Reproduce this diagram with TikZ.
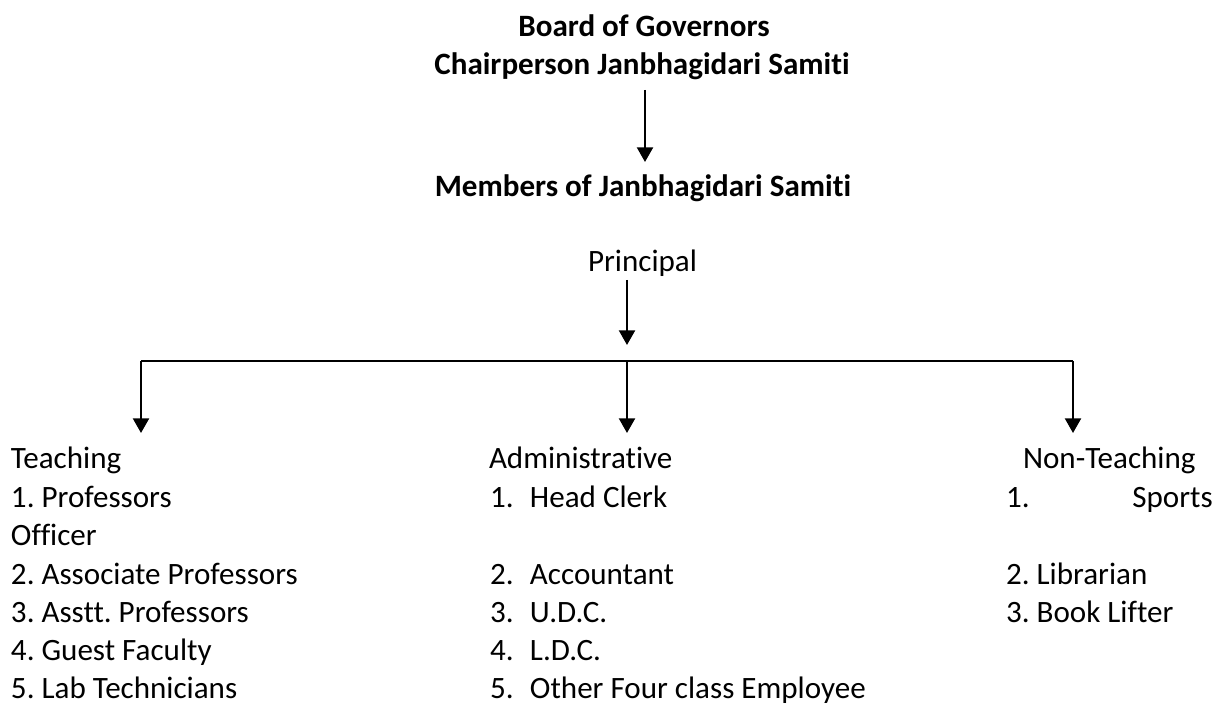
\documentclass[tikz,border=0pt]{standalone}
\usepackage{fontspec}
\setmainfont{Carlito}[Ligatures=NoCommon]
\usetikzlibrary{arrows.meta}
\frenchspacing
\begin{document}
\begin{tikzpicture}[x=0.75pt,y=-0.75pt,
  txt/.style={inner sep=0pt,outer sep=0pt,anchor=base west,font=\fontsize{23.3pt}{28pt}\selectfont},
  ttl/.style={inner sep=0pt,outer sep=0pt,anchor=base,font=\fontsize{23.3pt}{28pt}\selectfont\bfseries},
  conn/.style={line width=1.7pt},
  arr/.style={line width=1.7pt,-{Triangle[width=12pt,length=11pt]}}]
\useasboundingbox (0,0) rectangle (1217,705);
% titles
\node[ttl] (board) at (644,37) {Board of Governors};
\node[ttl] (chair) at (642,75) {Chairperson Janbhagidari Samiti};
\node[ttl] (members) at (643,197) {Members of Janbhagidari Samiti};
\node[txt,anchor=base] (principal) at (642.5,272) {Principal};
% connector coordinates
\coordinate (c1) at (645,90);
\coordinate (c1e) at (645,162);
\coordinate (p1) at (627,280);
\coordinate (p1e) at (627,345);
\coordinate (bl) at (141,361);
\coordinate (bm) at (627,361);
\coordinate (br) at (1073,361);
\coordinate (tl) at (141,433);
\coordinate (tm) at (627,433);
\coordinate (tr) at (1073,433);
\draw[arr] (c1) -- (c1e);
\draw[arr] (p1) -- (p1e);
\draw[conn] (bl) -- (br);
\draw[arr] (bl) -- (tl);
\draw[arr] (bm) -- (tm);
\draw[arr] (br) -- (tr);
% Teaching column
\node[txt] (teach) at (11,469) {Teaching};
\node[txt] (t1) at (11,507.5) {1. Professors};
\node[txt] (t1b) at (11,546) {Officer};
\node[txt] (t2) at (11,584.5) {2. Associate Professors};
\node[txt] (t3) at (11,622.5) {3. Asstt. Professors};
\node[txt] (t4) at (11,660.5) {4. Guest Faculty};
\node[txt] (t5) at (11,698) {5. Lab Technicians};
% Administrative column
\node[txt] (adm) at (489,469) {Administrative};
\node[txt] (a1) at (490,507.5) {\makebox[30pt][l]{1.}Head Clerk};
\node[txt] (a2) at (490,584.5) {\makebox[30pt][l]{2.}Accountant};
\node[txt] (a3) at (490,622.5) {\makebox[30pt][l]{3.}U.D.C.};
\node[txt] (a4) at (490,660.5) {\makebox[30pt][l]{4.}L.D.C.};
\node[txt] (a5) at (490,698) {\makebox[30pt][l]{5.}Other Four class Employee};
% Non-Teaching column
\node[txt] (nt) at (1023,469) {Non-Teaching};
\node[txt] (n1) at (1006,507.5) {\makebox[155pt][s]{1.\hfill Sports}};
\node[txt] (n2) at (1006,584.5) {2. Librarian};
\node[txt] (n3) at (1006,622.5) {3. Book Lifter};
\end{tikzpicture}
\end{document}
